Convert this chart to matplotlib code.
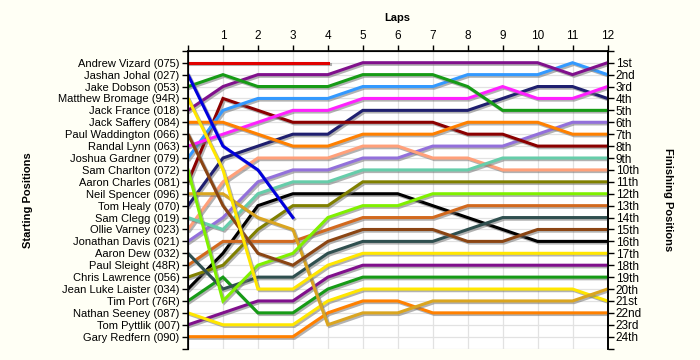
import matplotlib
matplotlib.use("Agg")
import matplotlib.pyplot as plt
import matplotlib.patheffects as pe

laps = list(range(13))

drivers = ["Andrew Vizard (075)", "Jashan Johal (027)", "Jake Dobson (053)",
           "Matthew Bromage (94R)", "Jack France (018)", "Jack Saffery (084)",
           "Paul Waddington (066)", "Randal Lynn (063)", "Joshua Gardner (079)",
           "Sam Charlton (072)", "Aaron Charles (081)", "Neil Spencer (096)",
           "Tom Healy (070)", "Sam Clegg (019)", "Ollie Varney (023)",
           "Jonathan Davis (021)", "Aaron Dew (032)", "Paul Sleight (48R)",
           "Chris Lawrence (056)", "Jean Luke Laister (034)", "Tim Port (76R)",
           "Nathan Seeney (087)", "Tom Pyttlik (007)", "Gary Redfern (090)"]

finish_labels = ["1st", "2nd", "3rd"] + [f"{i}th" for i in range(4, 21)] + \
                ["21st", "22nd", "23rd", "24th"]

# running position after each lap (lap 0 = grid), shorter lists = retired
positions = [
    [1, 1, 1, 1, 1],
    [2, 8, 10, 14],
    [3, 2, 3, 3, 3, 2, 2, 2, 3, 5, 5, 5, 5],
    [4, 10, 20, 20, 18, 17, 17, 17, 17, 17, 17, 17, 17],
    [5, 3, 2, 2, 2, 1, 1, 1, 1, 1, 1, 2, 1],
    [6, 6, 7, 8, 8, 7, 7, 7, 6, 6, 6, 7, 7],
    [7, 13, 17, 18, 16, 15, 15, 15, 16, 16, 15, 15, 15],
    [8, 7, 6, 5, 5, 4, 4, 4, 4, 3, 4, 4, 3],
    [9, 5, 4, 4, 4, 3, 3, 3, 2, 2, 2, 1, 2],
    [10, 21, 18, 17, 14, 13, 13, 12, 12, 12, 12, 12, 12],
    [11, 4, 5, 6, 6, 6, 6, 6, 7, 7, 8, 8, 8],
    [12, 12, 14, 15, 23, 22, 22, 21, 21, 21, 21, 21, 20],
    [13, 9, 8, 7, 7, 5, 5, 5, 5, 4, 3, 3, 4],
    [14, 15, 12, 11, 11, 10, 10, 10, 10, 9, 9, 9, 9],
    [15, 11, 9, 9, 9, 8, 8, 9, 9, 10, 10, 10, 10],
    [16, 14, 11, 10, 10, 9, 9, 8, 8, 8, 7, 6, 6],
    [17, 20, 19, 19, 17, 16, 16, 16, 15, 14, 14, 14, 14],
    [18, 16, 16, 16, 15, 14, 14, 14, 13, 13, 13, 13, 13],
    [19, 18, 15, 13, 13, 11, 11, 11, 11, 11, 11, 11, 11],
    [20, 17, 13, 12, 12, 12, 12, 13, 14, 15, 16, 16, 16],
    [21, 19, 22, 22, 20, 19, 19, 19, 19, 19, 19, 19, 19],
    [22, 23, 23, 23, 21, 20, 20, 20, 20, 20, 20, 20, 21],
    [23, 22, 21, 21, 19, 18, 18, 18, 18, 18, 18, 18, 18],
    [24, 24, 24, 24, 22, 21, 21, 22, 22, 22, 22, 22, 22],
]

colors = ["#E00000", "#0000DD", "#169B16", "#FFE600", "#80108C", "#FF8000",
          "#8B4513", "#FF20FF", "#3399FF", "#80F000", "#8B0000", "#DAA520",
          "#1F1F6F", "#66CDAA", "#FFA07A", "#9370DB", "#2F4F4F", "#D2691E",
          "#808000", "#000000", "#169B16", "#FFE600", "#80108C", "#FF8000"]

plt.rcParams["font.family"] = ["Liberation Sans", "DejaVu Sans"]
plt.rcParams["font.size"] = 8

fig = plt.figure(figsize=(7, 3.6), dpi=100, facecolor="#FFFFF5")
ax = fig.add_axes([188 / 700, 1 - 348.6 / 360, (607.5 - 188) / 700,
                   (348.6 - 50.8) / 360])
ax.set_facecolor("white")

shadow = [pe.SimpleLineShadow(offset=(1.2, -1.2), shadow_color="0.45",
                              alpha=0.55), pe.Normal()]
# draw bottom of the grid first so the leaders sit on top
for pos, col in reversed(list(zip(positions, colors))):
    ax.plot(laps[:len(pos)], pos, color=col, lw=2.2, solid_joinstyle="miter",
            path_effects=shadow, zorder=3)

ax.set_xlim(0, 12)
ax.set_ylim(25, 0)
ax.xaxis.tick_top()
ax.set_xticks(laps)
ax.set_xticklabels([""] + [str(l) for l in laps[1:]], fontsize=8.5)
ax.set_yticks(range(0, 26))
ax.set_yticklabels([""] + drivers + [""], fontsize=8)
ax.tick_params(axis="both", direction="out", length=4, width=1, pad=2)

ax.grid(True, color="#E2E2E2", lw=0.9, zorder=0)
ax.set_axisbelow(True)
ax.spines["bottom"].set_visible(False)
for s in ("left", "right", "top"):
    ax.spines[s].set_linewidth(1.2)

ax2 = ax.twinx()
ax2.set_ylim(25, 0)
ax2.set_yticks(range(0, 26))
ax2.set_yticklabels([""] + finish_labels + [""], fontsize=8.5)
ax2.tick_params(axis="y", direction="out", length=4, width=1, pad=2)
ax2.spines["bottom"].set_visible(False)
ax2.spines["right"].set_linewidth(1.2)

fig.text(397 / 700, 1 - 18 / 360, "Laps", ha="center", va="center",
         fontsize=8, fontweight="bold")
fig.text(28 / 700, 0.445, "Starting Positions", ha="center", va="center",
         rotation=90, fontsize=8, fontweight="bold")
fig.text(668 / 700, 0.445, "Finishing Positions", ha="center", va="center",
         rotation=270, fontsize=8, fontweight="bold")

fig.savefig("out.png", dpi=100, facecolor=fig.get_facecolor())
